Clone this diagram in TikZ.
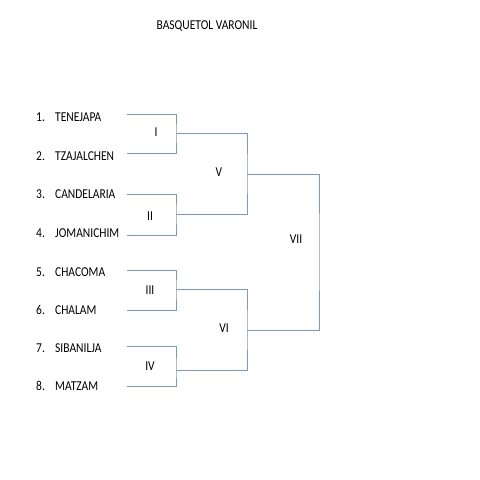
\documentclass[tikz,border=0pt]{standalone}
\usepackage{fontspec}
\setmainfont{Carlito}
\definecolor{bline}{RGB}{125,152,190}
\newcommand{\vstr}[1]{\scalebox{1}[1.18]{#1}}
\begin{document}
\begin{tikzpicture}[x=1pt,y=-1pt,
  lbl/.style={inner sep=0pt,font=\fontsize{11.5}{13}\selectfont},
  team/.style={lbl,anchor=west},
  br/.style={draw=bline,line width=0.9pt}]
\useasboundingbox[fill=white] (0,0) rectangle (480,480);
\node[lbl] (title) at (207,26) {\vstr{BASQUETOL VARONIL}};
% teams
\foreach \i/\y/\n in {1/117/TENEJAPA,2/156/TZAJALCHEN,3/194/CANDELARIA,4/233/JOMANICHIM,5/272/CHACOMA,6/310/CHALAM,7/348/SIBANILJA,8/386/MATZAM}{
  \node[team] (n\i) at (36,\y) {\vstr{\i.}};
  \node[team] (t\i) at (55,\y) {\vstr{\n}};
}
% line starts
\coordinate (a1) at (127,114);
\coordinate (a2) at (127,153);
\coordinate (a3) at (127,194);
\coordinate (a4) at (127,235);
\coordinate (a5) at (127,270);
\coordinate (a6) at (127,310);
\coordinate (a7) at (127,346);
\coordinate (a8) at (127,386);
% match points
\coordinate (m1) at (176,133);
\coordinate (m2) at (176,214);
\coordinate (m3) at (176,289);
\coordinate (m4) at (176,370);
\coordinate (m5) at (247,174);
\coordinate (m6) at (247,330);
\coordinate (m7) at (319,252);
\draw[br] (a1) -| (m1) |- (a2);
\draw[br] (a3) -| (m2) |- (a4);
\draw[br] (a5) -| (m3) |- (a6);
\draw[br] (a7) -| (m4) |- (a8);
\draw[br] (m1) -| (m5) |- (m2);
\draw[br] (m3) -| (m6) |- (m4);
\draw[br] (m5) -| (m7) |- (m6);
% round labels
\node[lbl] (r1) at (156,132) {\vstr{I}};
\node[lbl] (r2) at (150,216) {\vstr{II}};
\node[lbl] (r3) at (150,290) {\vstr{III}};
\node[lbl] (r4) at (150,366) {\vstr{IV}};
\node[lbl] (r5) at (219,172) {\vstr{V}};
\node[lbl] (r6) at (224,328) {\vstr{VI}};
\node[lbl] (r7) at (296,239) {\vstr{VII}};
\end{tikzpicture}
\end{document}
